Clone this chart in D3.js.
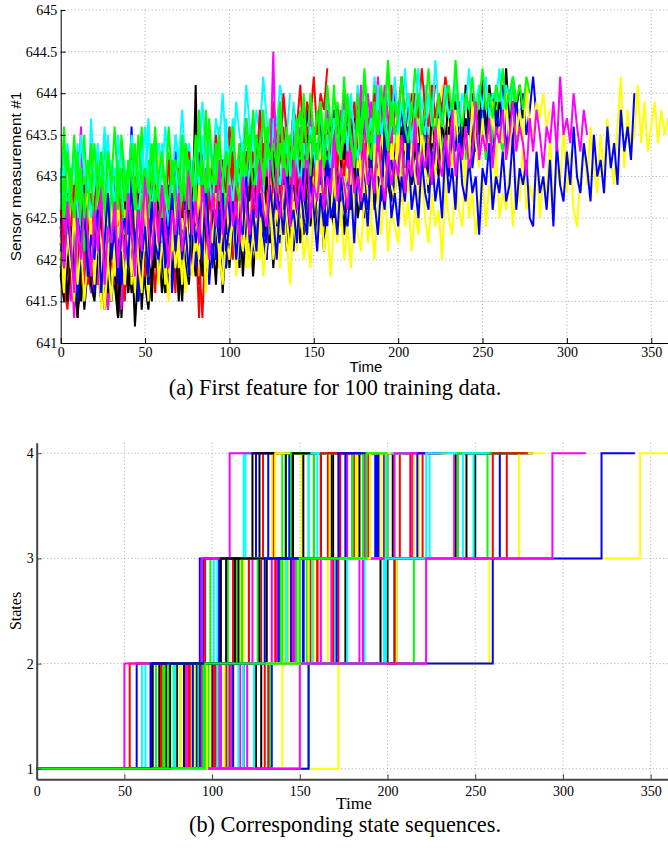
<!DOCTYPE html>
<html>
<head>
<meta charset="utf-8">
<script src="https://cdn.jsdelivr.net/npm/d3@7"></script>
<style>
  body { margin: 0; background: #fff; }
  svg { display: block; }
  .grid line { stroke: #a8a8a8; stroke-width: 1; stroke-dasharray: 1,2.5; }
</style>
</head>
<body>
<div id="chart"></div>
<script>
// matlab default line order: b g r c m y k
const colorCycle = ["#0000ff", "#00ff00", "#ff0000", "#00ffff", "#ff00ff", "#ffff00", "#000000"];
const SERIF = '"Liberation Serif", "Times New Roman", serif';
const SANS = '"Liberation Sans", Arial, sans-serif';

// ---- state sequences (panel b), one value per training unit 0..99
const jump12 = [88,155,84,97,116,92,118,65,99,104,110,79,75,90,96,103,130,85,72,112,
  94,93,68,70,109,86,77,80,57,91,108,60,97,88,87,76,82,89,62,85,
  101,94,100,92,53,118,104,107,100,91,98,102,90,120,90,128,66,72,110,78,
  87,82,84,134,73,97,124,94,172,70,100,105,101,79,111,99,74,112,95,87,
  115,50,140,125,89,133,71,103,105,75,66,155,75,132,124,150,97,76,65,96];
const jump23 = [141,215,128,138,184,136,176,95,150,160,170,123,118,131,152,148,205,143,112,168,
  141,147,99,112,170,144,116,121,93,140,172,101,147,144,131,117,126,141,103,137,
  158,146,152,139,96,187,157,166,157,145,154,160,142,186,141,200,104,109,169,127,
  134,130,127,204,114,150,198,146,258,108,152,157,156,121,168,155,113,171,148,136,
  177,94,205,196,138,204,121,157,162,115,105,260,117,204,199,222,150,115,130,150];
const jump34 = [180,257,166,176,238,176,239,132,187,207,224,158,151,168,193,195,268,181,146,218,
  182,190,155,135,214,186,134,152,144,180,220,118,187,183,169,146,158,181,119,177,
  203,184,194,180,129,240,200,215,203,186,200,198,182,240,182,250,125,140,213,160,
  173,167,162,264,142,189,249,187,344,127,195,199,198,155,214,196,142,217,186,173,
  222,110,275,245,176,240,162,199,204,136,123,322,145,260,243,294,190,146,172,188];
const lifeEnd = [192,276,179,189,256,188,259,150,201,222,240,170,163,180,207,209,283,195,158,234,
  195,202,168,147,230,199,156,165,163,194,234,137,200,195,181,158,170,194,128,188,
  216,196,207,192,158,256,214,231,215,198,213,213,195,257,193,275,137,147,231,172,
  185,180,174,283,153,202,270,199,362,137,208,213,213,166,229,210,154,231,199,185,
  240,128,290,267,188,278,178,213,217,154,135,341,155,280,258,313,202,156,185,200];

// ---- sensor measurement #1 (panel a), every 2 cycles, for a subset of units
const sensorStep = 2;
const sensorU1 = [642.9,642.4,643.3,642.6,642.2,643.0,642.7,643.5,642.5,642.8,
  642.3,643.1,642.6,643.4,642.9,642.1,642.7,643.2,642.5,643.0,
  642.6,643.3,642.4,642.9,643.6,642.7,642.2,643.0,642.8,643.4,
  642.5,642.9,643.2,642.3,643.0,642.7,643.5,642.6,643.1,642.4,
  643.0,642.6,643.3,642.8,642.2,643.1,642.9,643.6,642.5,643.2,
  642.7,643.4,642.6,643.0,642.4,643.3,642.9,643.1,642.5,643.5,
  642.8,643.2,642.6,643.7,642.9,643.0,642.5,643.4,643.1,642.7,
  643.3,642.8,643.5,642.6,643.1,643.4,642.9,643.8,642.7,643.2,
  643.0,643.6,642.8,643.3,642.7,643.5,643.1,642.9,643.7,643.2,
  642.9,643.4,643.0,643.8,642.8,643.3,643.6,643.0,643.5,642.9,
  643.4,643.1,643.7,642.9,643.5,643.2,643.9,643.0,643.4,643.6,
  643.1,643.8,643.3,643.5,643.0,643.7,643.2,644.0,643.4,643.6,
  643.2,643.9,643.5,643.3,644.1,643.6,643.2,643.8,643.4,644.0,
  643.5,643.3,643.9,643.6,644.2,643.4,643.8,643.7,644.0];
const sensorU2 = [642.0,642.5,641.7,642.3,641.9,642.6,642.1,641.6,642.4,642.0,
  642.7,641.8,642.3,642.1,641.5,642.5,642.2,642.8,641.9,642.4,
  642.0,642.6,641.7,642.3,642.9,642.1,641.8,642.5,642.2,642.7,
  641.9,642.4,642.0,642.8,642.3,641.7,642.6,642.2,642.5,642.0,
  642.7,642.3,642.9,641.8,642.5,642.1,643.0,642.4,642.6,642.2,
  642.8,642.5,642.1,643.1,642.6,642.3,642.9,642.7,642.4,643.2,
  642.6,642.9,642.5,643.3,642.8,642.4,643.0,642.7,643.4,642.9,
  642.6,643.2,642.8,643.5,643.0,642.7,643.3,643.1,642.9,643.6,
  643.2,642.9,643.5,643.1,643.7,643.3,643.0,643.6,643.4,643.8];
const sensorU6 = [641.9,642.4,641.6,642.2,641.8,642.5,641.5,642.1,642.7,641.9,
  642.3,641.7,642.6,642.0,641.4,642.2,641.8,642.5,641.3,642.0,
  641.6,642.3,641.2,641.9,642.4,641.7,642.1,641.5,642.6,641.8,
  642.2,641.6,642.4,641.9,642.7,642.0,641.5,642.3,641.8,642.5,
  642.1,641.7,642.6,642.2,641.9,642.8,642.0,642.4,641.6,642.3,
  642.7,642.1,642.5,641.9,642.8,642.2,642.6,641.8,642.4,642.9,
  642.3,642.0,642.7,642.5,642.1,643.0,642.4,642.8,642.2,642.6,
  643.1,642.5,642.3,642.9,642.6,643.2,642.4,642.8,642.1,642.7,
  643.0,642.5,643.3,642.7,642.4,642.9,643.1,642.6,643.4,642.8,
  642.5,643.0,642.7,643.3,642.9,643.5,642.6,643.1,642.8,643.4,
  643.0,642.7,643.6,643.1,642.9,643.3,643.7,643.0,643.4,642.8,
  643.5,643.2,643.0,643.8,643.3,643.6,643.1,643.9,643.4,643.2,
  643.7,643.5,644.0,643.3,643.8,643.6,643.4,644.1,643.7,643.9];
const sensorU7 = [642.0,642.4,642.6,641.9,641.6,642.3,642.1,642.8,642.2,641.7,
  641.9,642.5,642.9,642.3,642.0,641.5,642.2,642.7,642.4,641.8,
  642.6,642.1,642.0,642.8,643.2,642.4,641.9,642.3,642.5,642.0,
  642.7,643.0,642.2,642.4,641.8,642.6,642.9,642.5,642.1,642.8,
  642.3,643.3,642.7,642.2,642.5,642.9,642.4,643.1,642.6,642.3,
  642.9,643.4,642.8,642.5,643.0,642.7,643.2,642.6,643.5,642.9,
  643.1,642.8,643.4,643.0,642.7,643.6,643.2,642.9,643.3,643.7,
  643.1,643.5,643.3,643.8,643.4];
const sensorU9 = [642.3,641.8,642.5,641.6,642.2,641.3,642.0,642.6,641.9,642.4,
  641.7,642.1,642.8,642.0,641.6,642.3,641.9,642.6,642.2,641.5,
  642.4,642.9,642.0,641.7,642.5,642.1,642.7,641.8,642.3,642.0,
  642.6,641.9,642.4,642.2,641.6,642.7,642.1,642.5,641.8,642.9,
  642.3,642.0,641.3,642.4,642.8,642.1,642.6,641.9,642.5,642.2,
  642.7,642.0,642.9,642.4,642.1,642.6,643.0,642.3,642.7,642.5,
  642.2,642.9,642.6,643.1,642.4,642.8,642.3,643.0,642.6,642.9,
  642.5,643.2,642.7,642.4,643.0,642.8,643.3,642.6,643.1,642.9,
  643.4,642.7,643.0,643.2,642.8,643.5,643.1,642.9,643.6,643.0,
  643.3,643.1,643.7,642.9,643.4,643.2,643.8,643.0,643.5,643.3,
  643.9,643.2,643.6,643.4,644.0,643.3,643.7,643.5,643.9,643.4,
  643.8,644.1];
const sensorU10 = [642.9,643.3,642.6,643.0,642.7,643.4,642.8,643.1,642.5,643.7,
  642.9,643.2,642.6,643.0,643.5,642.7,643.1,642.8,643.4,642.5,
  643.0,642.8,643.3,642.6,643.1,642.9,643.6,642.7,643.2,642.9,
  643.4,642.6,643.0,642.8,643.5,643.1,642.7,643.3,642.9,643.2,
  642.8,643.6,643.0,642.7,643.4,643.1,642.9,643.5,642.8,643.2,
  643.0,643.7,642.9,643.3,643.1,642.8,643.6,643.2,643.0,643.4,
  643.8,643.1,642.9,643.5,643.2,643.7,643.0,643.4,643.1,643.9,
  643.3,643.0,643.6,643.2,643.8,643.4,643.1,643.7,643.3,644.0,
  643.5,643.2,643.8,643.4,643.1,643.9,643.5,643.3,644.1,643.6,
  643.2,643.8,643.5,644.2,643.4,643.7,643.3,644.0,643.6,643.4,
  643.9,643.5,644.3,643.7,643.4,644.0,643.6,643.8,644.1,643.5,
  643.9];
const sensorU13 = [641.8,641.5,642.1,642.4,641.9,641.4,641.7,642.3,642.0,641.6,
  642.2,642.6,641.8,641.5,642.0,642.3,641.7,641.3,641.9,642.4,
  642.1,641.6,641.8,642.5,642.2,641.7,641.4,642.0,642.3,641.8,
  642.6,642.0,641.7,642.2,642.7,642.1,641.8,642.4,641.9,642.2,
  642.8,642.3,641.9,642.1,642.6,642.0,642.4,642.9,642.2,641.9,
  642.5,642.3,642.8,642.1,642.6,643.0,642.4,642.2,642.7,642.5,
  643.1,642.4,642.2,642.8,642.6,643.0,642.5,643.2,642.7,642.4,
  642.9,643.3,642.6,642.8,643.1,642.7,643.4,643.0,642.8,643.2,
  643.5,642.9,643.3,643.1,643.6,643.2,643.0,643.7,643.4,643.6];
const sensorU14 = [642.5,642.1,642.8,642.3,641.8,642.6,642.2,642.9,642.4,642.0,
  642.7,642.3,643.0,641.9,642.5,642.2,642.8,642.4,643.1,642.1,
  642.6,643.6,642.3,642.9,642.0,642.7,642.4,643.2,642.2,642.8,
  642.5,642.1,642.9,642.6,643.3,642.3,642.7,642.4,643.0,642.2,
  642.8,642.5,643.1,642.3,642.9,642.6,643.4,642.4,642.8,642.5,
  643.2,642.7,642.3,643.0,642.6,643.3,642.8,642.5,643.1,642.7,
  643.4,642.6,643.0,642.8,643.5,642.7,643.1,642.9,643.3,642.6,
  643.2,642.9,643.6,643.0,642.8,643.4,643.1,643.7,642.9,643.3,
  643.0,643.8,643.2,642.9,643.5,643.1,643.7,643.3,643.0,643.9,
  643.4,643.2,643.8,643.5,643.1,644.0,643.4,643.6,643.3,644.1,
  643.5,643.8,643.4,644.0];
const sensorU19 = [642.0,641.6,642.4,641.8,642.2,641.5,642.1,642.6,641.7,642.3,
  641.9,642.5,641.4,642.0,642.7,641.8,642.2,641.6,642.4,642.0,
  642.6,641.7,642.3,641.9,642.8,642.1,641.5,642.4,642.0,643.4,
  641.8,642.3,642.1,642.7,641.9,642.5,642.2,641.6,642.6,642.0,
  642.4,641.8,642.9,642.2,642.5,642.0,642.7,641.9,642.3,642.6,
  642.1,642.8,642.4,642.0,642.6,642.3,643.0,642.2,642.7,642.5,
  642.1,642.9,642.4,642.7,642.2,643.1,642.6,642.3,642.8,642.5,
  643.0,642.4,642.7,643.2,642.6,642.9,642.3,643.1,642.7,642.5,
  643.3,642.8,642.6,643.0,642.7,643.4,642.9,642.6,643.2,642.8,
  643.5,643.0,642.7,643.3,642.9,643.6,643.1,642.8,643.4,643.0,
  643.7,643.2,642.9,643.5,643.1,643.8,643.3,643.0,643.6,643.2,
  643.9,643.4,643.1,643.7,643.3,644.0,643.5,643.8];
const sensorU23 = [642.2,641.7,641.4,642.0,642.5,642.3,641.8,641.6,642.4,642.8,
  642.1,641.9,641.5,642.3,642.6,642.0,641.7,642.2,643.0,642.4,
  641.9,642.1,642.7,642.3,641.8,642.5,642.9,642.2,641.6,642.4,
  642.7,642.1,641.9,642.6,642.3,643.1,642.5,642.0,642.2,642.8,
  642.4,641.3,642.6,642.9,642.3,642.5,643.0,642.6,642.2,642.8,
  643.2,642.7,642.4,643.0,642.6,643.3,642.8,642.5,643.1,642.9,
  643.4,642.7,643.0,643.5,642.9,643.2,643.6,643.0,643.3,643.7,
  643.1,643.5,643.8,643.4];
const sensorU25 = [642.3,641.8,642.6,642.0,641.3,642.4,643.6,642.1,641.9,642.5,
  642.2,641.7,642.8,642.0,641.4,642.3,642.7,641.9,642.4,642.1,
  642.6,641.8,642.9,642.2,642.0,642.5,641.7,642.7,642.3,642.0,
  642.8,642.2,642.5,641.9,642.6,643.0,642.3,642.1,642.7,642.4,
  642.9,642.2,642.6,643.1,642.4,642.0,642.8,642.5,643.2,642.3,
  642.7,642.5,643.0,642.4,642.9,642.6,643.3,642.5,642.8,643.1,
  642.7,643.4,642.6,643.0,642.8,643.5,642.9,643.2,642.7,643.6,
  643.0,642.8,643.3,643.1,643.7,642.9,643.4,643.2,643.0,643.8,
  643.3,643.1,643.6,643.4,644.0,643.2,643.7,643.5,643.3,644.1,
  643.6,643.4,643.9,643.5,644.2,643.6,643.8,643.5,644.0,643.7];
const sensorU31 = [643.1,642.7,643.4,642.9,643.2,642.6,643.5,643.0,642.8,643.3,
  642.7,643.1,642.9,643.6,642.8,643.2,643.0,642.7,643.4,643.1,
  642.9,643.5,643.2,642.8,643.3,643.0,643.7,642.9,643.2,643.4,
  643.0,643.6,643.1,642.9,643.5,643.2,643.8,643.1,643.4,643.0,
  643.6,643.3,643.9,643.2,643.5,643.1,643.7,643.4,644.0,643.3,
  643.6,643.2,643.9,643.5,643.3,644.1,643.6,643.4,643.8,643.5,
  644.2,643.7,643.4,643.9,643.6,644.1,643.8,643.5,644.0];
const sensorU32 = [642.1,642.5,641.8,641.5,642.2,642.7,642.4,641.9,642.3,641.6,
  642.0,642.6,642.9,642.2,641.7,642.1,642.5,642.0,641.4,642.3,
  642.8,642.4,642.1,641.8,642.6,643.1,642.3,641.9,642.2,642.7,
  642.4,641.7,642.0,642.5,642.9,642.2,642.0,642.6,642.3,641.9,
  642.4,642.8,642.5,642.1,642.7,643.2,642.4,642.2,642.6,642.9,
  642.3,642.7,643.0,642.5,642.2,642.8,643.3,642.6,642.4,642.9,
  642.6,643.1,642.5,642.8,643.4,642.9,642.6,643.0,643.2,642.7,
  643.1,643.6,642.9,643.2,643.0,643.5,643.1,642.8,643.3,643.7,
  643.2,643.0,643.5,643.8,643.3,643.1,643.6,643.4,643.9,643.2,
  643.5,644.0,643.6,643.3,643.8,643.5,644.1,643.7,643.4,643.9,
  643.6];
const sensorU44 = [642.4,642.0,642.7,642.2,641.8,642.5,642.1,642.9,642.3,641.9,
  642.6,642.2,642.8,642.0,642.5,642.3,643.0,642.1,642.6,642.4,
  642.9,642.2,642.7,642.5,643.1,642.3,642.8,642.6,642.2,643.0,
  642.5,642.9,642.4,643.2,642.6,642.3,643.0,642.7,643.3,642.5,
  642.9,642.7,643.4,642.6,643.1,642.8,643.5,642.9,643.2,642.7,
  643.6,643.0,642.8,643.4,643.1,643.7,642.9,643.3,643.0,643.8,
  643.2,643.5,643.1,643.9,643.4,643.2,644.0,643.5,643.3,643.8,
  643.6,644.1,643.4,643.9,643.7,644.2,643.5,644.0,643.8,644.3];
const sensorU47 = [642.4,641.9,642.1,642.7,642.3,641.6,642.0,642.5,642.8,642.2,
  641.8,642.4,641.5,642.0,642.6,642.3,641.9,642.7,642.1,641.7,
  642.3,642.9,642.5,642.0,641.6,642.2,642.6,642.4,641.9,642.8,
  642.1,641.8,642.5,643.1,642.3,642.0,642.4,641.7,642.2,642.7,
  642.4,642.9,642.1,641.9,642.6,642.3,642.8,642.5,642.0,642.4,
  643.0,642.6,642.2,642.7,642.4,641.9,642.5,642.9,642.3,642.6,
  643.2,642.7,642.4,642.8,642.2,642.6,643.1,642.8,642.5,642.9,
  642.4,642.7,643.3,642.9,642.6,643.0,642.7,643.4,642.8,642.5,
  643.1,642.9,643.5,642.8,643.2,643.0,642.7,643.3,643.6,643.0,
  642.8,643.4,643.1,643.7,643.2,642.9,643.5,643.3,643.0,643.6,
  643.8,643.2,643.4,643.1,643.7,643.5,643.9,643.3,643.6,644.0,
  643.4,643.7,643.5,644.1,643.8,643.6];
const sensorU50 = [642.8,643.6,642.5,643.1,642.7,643.3,642.4,643.0,642.8,643.4,
  642.6,643.2,642.9,642.5,643.3,642.8,643.0,642.6,643.5,642.9,
  643.1,642.7,643.4,642.8,643.0,642.5,643.2,642.9,643.6,642.7,
  643.1,642.8,643.3,642.6,643.0,642.9,643.5,642.7,643.2,642.8,
  643.4,643.0,642.7,643.8,642.9,643.2,643.0,643.5,642.8,643.3,
  643.1,643.6,642.9,643.4,643.0,643.7,643.2,642.9,643.5,643.1,
  643.8,643.2,643.0,643.6,643.3,643.9,643.1,643.5,643.2,643.8,
  643.4,643.1,643.7,643.3,644.0,643.5,643.2,643.8,643.4,644.1,
  643.6,643.3,643.9,643.5,644.2,643.4,643.8,643.6,644.0,643.5,
  644.3,643.7,643.5,644.1,643.6,644.0,643.8,644.4,643.7,643.9,
  643.6,644.2,643.8,644.0,643.7,644.3,643.9];
const sensorU55 = [641.8,642.3,641.5,642.0,642.6,641.7,642.2,641.4,641.9,642.4,
  641.6,642.1,642.7,641.8,642.3,641.5,642.0,641.3,641.9,642.5,
  641.6,642.2,641.8,642.6,641.4,642.1,641.7,642.4,641.9,642.3,
  641.6,642.0,642.5,641.8,642.2,641.5,642.7,642.0,641.7,642.4,
  644.1,642.1,641.8,642.6,642.0,642.3,641.7,642.5,642.1,642.8,
  641.9,642.4,642.2,642.7,641.8,642.5,642.0,642.9,642.3,642.1,
  642.6,642.2,642.8,641.9,642.5,642.3,643.0,642.1,642.7,642.4,
  642.9,642.2,642.6,643.1,642.4,642.8,642.3,642.7,642.5,643.2,
  642.6,642.4,643.0,642.7,642.3,642.9,642.6,643.3,642.5,642.8,
  643.1,642.7,643.4,642.6,643.0,642.8,643.5,642.9,642.7,643.2,
  643.0,643.6,642.8,643.3,643.1,643.7,642.9,643.4,643.2,643.0,
  643.8,643.3,643.1,643.6,643.4,644.0,643.2,643.7,643.5,643.3,
  644.1,643.6,643.4,643.9,643.5,644.2,643.6,643.8,644.0,643.5,
  643.9,643.7,644.3,643.6,643.9,643.8,644.1,643.7];
const sensorU58 = [642.6,642.2,641.8,642.4,642.9,642.5,642.0,642.3,641.7,642.1,
  642.7,643.0,642.4,641.9,642.2,642.6,642.3,641.6,642.5,642.8,
  642.1,642.4,643.0,642.6,642.0,641.8,642.5,642.2,642.9,642.4,
  642.0,642.7,643.2,642.5,642.1,642.4,642.8,642.2,641.9,642.6,
  642.3,642.9,642.5,642.1,642.7,643.1,642.4,642.6,642.2,642.9,
  642.5,643.3,642.7,642.3,642.8,642.5,643.0,642.6,642.2,642.9,
  643.2,642.7,642.5,643.0,643.4,642.8,642.6,643.1,642.7,643.3,
  642.9,642.6,643.2,643.6,643.0,642.8,643.3,643.0,643.5,642.9,
  643.2,643.7,643.1,643.4,643.0,643.6,643.3,643.9,643.2,643.5,
  643.1,643.7,643.4,644.0,643.3,643.6,643.8,643.4,644.1,643.5,
  643.7,644.2,643.6,643.9,643.5,644.0,643.7,644.3,643.8,643.6,
  644.1,643.7,644.0,643.8,644.2,643.9];
const sensorU62 = [642.1,641.6,641.9,642.4,641.8,641.3,642.0,642.5,642.2,641.7,
  641.5,642.1,642.6,642.0,641.6,642.3,641.9,641.4,642.2,642.7,
  642.1,641.8,642.4,641.5,642.0,642.5,642.2,641.7,642.3,642.8,
  642.0,641.6,642.2,642.6,642.3,641.9,642.5,642.1,642.8,642.2,
  641.8,642.4,642.9,642.3,642.0,642.6,642.2,642.8,643.2,642.4,
  642.1,642.7,642.3,642.9,642.5,642.2,642.8,643.1,642.5,642.7,
  642.4,643.0,642.6,643.3,642.8,642.5,643.1,642.7,643.4,642.9,
  642.6,643.2,643.0,643.5,642.9,643.3,643.1,643.7,643.2,643.0,
  643.6,643.3,643.8,643.4,643.2,643.9,643.5,643.7];
const sensorU63 = [642.2,641.7,642.4,641.9,642.6,641.5,642.1,642.8,641.8,642.3,
  641.6,642.5,642.0,641.4,642.2,642.7,641.9,642.4,641.7,642.1,
  642.6,641.8,642.3,641.5,642.0,642.5,641.7,642.9,642.2,641.8,
  642.4,642.0,642.6,641.6,642.3,642.1,641.8,642.7,642.2,642.4,
  641.9,642.5,642.1,642.8,641.7,642.3,642.0,642.6,642.2,641.9,
  642.7,642.3,642.5,642.0,642.9,642.2,642.6,642.1,642.4,642.8,
  642.3,642.0,642.7,642.5,643.0,642.2,642.6,642.4,642.9,642.1,
  642.7,642.5,643.1,642.3,642.8,642.6,642.2,643.0,642.7,642.4,
  643.2,642.6,642.9,642.5,643.0,642.8,643.3,642.5,642.9,642.7,
  643.1,642.6,643.4,642.8,643.0,642.7,643.5,642.9,643.2,642.8,
  643.3,643.0,642.7,643.6,643.1,642.9,643.4,643.2,643.7,643.0,
  643.3,643.1,643.8,643.2,643.5,643.0,643.6,643.3,643.9,643.2,
  643.4,643.7,643.1,643.5,643.3,644.0,643.4,643.6,643.2,643.8,
  643.5,644.1,643.3,643.7,643.4,643.9,643.6,644.0,643.5,643.8,
  644.2,643.7];
const sensorU66 = [642.7,643.1,642.4,642.9,643.3,642.6,642.2,642.8,643.0,642.5,
  642.9,643.4,642.7,642.3,642.8,643.1,642.6,643.5,642.9,642.4,
  642.7,643.2,642.8,642.5,643.0,643.6,642.9,642.6,643.1,642.7,
  643.3,642.8,642.4,642.9,643.2,642.6,643.0,643.4,642.8,642.5,
  643.1,642.9,643.5,642.7,643.0,642.6,643.3,643.1,642.8,643.7,
  643.0,642.7,643.2,642.9,643.4,642.8,643.1,643.6,642.9,643.2,
  642.8,643.4,643.0,643.7,643.1,642.9,643.3,643.5,643.0,643.8,
  643.2,642.9,643.4,643.1,643.6,643.3,643.0,643.9,643.2,643.5,
  643.1,643.7,643.4,643.2,643.8,643.3,644.0,643.5,643.2,643.6,
  643.9,643.4,643.7,643.3,644.1,643.5,643.8,643.4,643.6,644.2,
  643.5,643.9,643.6,644.0,643.4,643.8,644.3,643.7,643.5,644.0,
  643.6,644.4,643.8,643.6,644.1,643.7,643.9,644.2,643.6,644.0,
  643.8,644.3,643.7,643.9,644.1,643.8,644.2,643.7,644.0,643.9,
  644.3,643.8,644.1,643.9,644.2,643.9];
const sensorU68 = [642.1,641.6,642.4,641.9,642.6,641.7,642.2,641.5,642.0,642.5,
  641.8,642.3,641.6,642.7,642.0,641.5,642.2,641.9,642.4,641.7,
  642.3,641.8,642.6,642.0,641.6,642.4,641.9,642.1,642.8,641.7,
  642.2,642.0,641.5,642.5,641.9,642.3,641.7,642.6,642.1,641.8,
  642.4,642.0,642.7,641.6,642.2,641.9,642.5,642.1,641.7,642.3,
  642.0,642.6,641.8,642.4,642.1,642.8,641.9,642.3,642.0,642.5,
  641.8,642.2,642.7,642.0,642.4,641.9,642.6,642.2,641.7,642.5,
  642.1,642.8,642.0,642.3,641.9,642.6,642.2,642.9,642.1,642.4,
  641.8,642.5,642.2,642.7,642.0,642.4,641.9,642.6,642.3,642.1,
  642.8,642.2,642.5,642.0,642.7,642.3,643.0,642.1,642.6,642.4,
  642.2,642.9,642.4,642.7,642.1,642.6,642.3,643.1,642.5,642.2,
  642.8,642.4,642.6,642.0,642.9,642.5,642.3,643.0,642.6,642.4,
  643.2,642.5,642.8,642.3,642.7,643.0,642.4,642.9,642.6,643.3,
  642.5,642.8,642.6,643.1,642.4,643.0,642.7,643.4,642.6,642.9,
  642.7,643.2,642.5,643.0,642.8,643.5,642.7,643.1,642.9,643.6,
  642.8,643.3,642.6,642.4,643.0,643.4,642.9,643.6,643.1,642.8,
  643.5,643.0,643.7,643.2,642.9,643.6,644.2,643.1,643.8,643.3,
  643.5,644.1,643.4,643.9,643.3,643.6,643.9,643.4,643.8,643.5,
  643.7,643.4];
const sensorU82 = [642.3,641.8,642.6,642.0,641.5,642.4,642.1,642.8,641.9,642.3,
  641.7,642.5,642.2,641.4,642.0,642.7,641.8,642.4,642.1,642.6,
  641.9,642.3,641.6,642.5,642.0,642.8,641.8,642.2,642.6,642.0,
  642.4,641.7,642.3,642.1,642.7,641.9,642.5,642.2,641.8,642.6,
  642.1,642.9,642.3,641.9,642.5,642.2,642.7,642.0,642.4,642.8,
  642.2,642.5,642.0,642.9,642.4,642.1,642.7,642.3,642.6,642.0,
  642.8,642.4,643.1,642.2,642.6,642.3,642.9,642.5,642.1,642.7,
  642.4,643.0,642.6,642.2,642.8,642.5,643.2,642.3,642.7,642.9,
  642.5,643.1,642.6,642.4,643.0,642.7,643.3,642.5,642.9,642.6,
  643.2,642.8,642.5,643.4,642.7,643.0,642.6,643.3,642.9,642.7,
  643.5,642.9,643.1,642.8,643.4,643.0,642.7,643.6,643.1,642.9,
  643.3,643.0,643.7,643.2,642.9,643.5,643.1,643.8,643.3,643.0,
  643.6,643.2,643.9,643.4,643.1,643.7,643.3,643.5,643.9,643.2,
  643.6,643.4,644.0,643.3,643.7,643.5,643.8,643.4,644.1,643.6,
  643.5,643.9,643.7,644.0,643.6,643.8];
const sensorU85 = [642.6,643.0,642.3,642.8,642.5,643.2,642.7,642.1,642.6,643.0,
  642.4,642.9,643.3,642.6,642.2,642.8,642.5,643.1,642.7,642.3,
  642.9,643.4,642.8,642.4,642.7,643.1,642.5,642.9,643.5,642.8,
  642.4,643.0,642.6,643.2,642.7,642.3,642.9,643.3,642.6,643.0,
  642.7,643.8,642.8,642.5,643.1,642.9,643.4,642.7,643.0,642.6,
  643.2,643.6,642.9,642.7,643.3,643.0,643.5,642.8,643.1,643.4,
  642.9,643.2,643.7,643.0,642.8,643.4,643.1,643.6,643.2,642.9,
  643.5,643.8,643.1,643.3,643.0,643.6,643.2,643.9,643.4,643.1,
  643.5,643.3,643.8,643.2,643.6,644.0,643.4,643.1,643.7,643.3,
  643.9,643.5,643.2,643.8,643.4,644.1,643.6,643.3,643.9,643.5,
  643.7,644.2,643.6,643.4,643.9,643.6,644.0,643.5,643.8,644.3,
  643.7,643.5,644.0,643.6,643.9,644.1,643.7,644.4,643.8,643.6,
  644.0,643.8,644.2,643.7,643.9,644.3,643.8,644.0,643.7,644.1,
  643.9,644.3,643.8,644.0,644.2,643.9,644.1,643.8,644.2,644.0];
const sensorU91 = [642.4,641.9,642.6,642.1,641.7,642.5,642.2,642.9,641.8,642.3,
  642.0,642.6,641.6,642.2,642.8,642.0,642.4,641.7,642.3,642.5,
  641.9,643.0,642.1,642.6,642.0,642.4,641.8,642.7,642.2,642.0,
  642.5,641.9,642.3,642.8,642.1,642.6,642.0,642.4,641.8,642.7,
  642.2,642.5,642.0,642.9,642.3,641.9,642.6,642.2,642.8,642.1,
  642.4,642.7,642.0,642.5,642.3,643.0,642.2,642.6,642.1,642.8,
  642.4,642.2,642.9,642.5,642.0,642.7,642.3,643.1,642.4,642.6,
  642.2,642.9,642.5,642.3,643.0,642.6,642.1,642.8,642.4,643.2,
  642.5,642.7,642.3,643.0,642.6,642.4,642.9,642.2,643.1,642.6,
  642.8,642.4,643.2,642.7,642.3,642.9,642.6,643.3,642.5,642.8,
  642.4,643.0,642.7,643.4,642.6,642.9,642.5,643.2,642.8,642.6,
  643.3,642.7,643.0,642.5,643.4,642.8,643.1,642.6,643.5,642.9,
  642.7,643.2,642.8,643.0,642.3,643.1,642.9,643.4,642.6,643.0,
  642.8,643.3,642.7,642.9,643.5,642.6,643.1,642.9,643.2,642.5,
  642.4,643.3,642.8,643.0,642.6,643.2,642.4,643.4,642.9,642.7,
  643.3,642.9,643.6,643.0,642.8,643.4,643.1,642.7,643.5,643.0,
  643.2,642.8,643.6,643.1,643.4,642.9,643.8,643.3,643.6,643.2,
  644.0];
const sensorU95 = [642.4,641.9,642.7,642.2,641.6,642.5,642.0,642.8,642.3,641.8,
  642.6,642.1,642.9,641.7,642.4,642.2,642.7,641.9,642.5,642.0,
  642.8,642.3,641.8,642.6,642.1,643.0,642.4,642.0,642.7,642.2,
  642.9,642.4,641.9,642.6,642.3,642.8,642.1,642.5,643.1,642.3,
  642.7,642.2,642.9,642.5,642.0,642.8,642.4,643.2,642.3,642.6,
  642.9,642.4,642.7,642.2,643.0,642.6,642.3,642.9,642.5,643.3,
  642.6,642.4,643.0,644.5,642.7,642.5,643.1,642.8,642.4,643.2,
  642.6,643.0,642.7,643.4,642.5,642.9,642.7,643.2,642.6,643.0,
  642.8,643.5,642.7,643.1,642.9,642.6,643.3,642.8,643.0,642.7,
  643.4,642.9,643.1,642.8,643.6,643.0,642.7,643.3,642.9,643.2,
  643.0,643.5,642.8,643.2,643.0,643.7,642.9,643.3,643.1,643.4,
  642.9,643.6,643.2,643.0,643.5,643.1,643.8,643.0,643.4,643.2,
  643.6,643.1,643.3,643.9,643.2,643.5,643.3,643.7,643.1,643.6,
  643.4,643.8,643.2,643.5,643.9,643.3,643.6,643.4,643.0,643.7,
  643.3,643.8,643.5,643.1,643.6,643.4,643.9,643.3,644.2,643.5,
  643.7,643.4,644.0,643.6,643.3,643.8,643.5];
const sensorU99 = [643.0,642.6,643.3,642.8,643.5,642.7,643.1,642.5,643.2,642.9,
  643.4,642.7,643.0,642.6,643.3,642.9,643.6,642.8,643.1,642.7,
  643.2,643.0,642.6,643.5,642.9,643.1,642.8,643.4,642.7,643.0,
  643.3,642.8,643.6,642.9,643.2,643.0,642.7,643.4,643.1,642.9,
  643.5,643.0,643.2,642.8,643.7,643.1,642.9,643.4,643.0,643.3,
  643.1,643.6,642.9,643.2,643.0,643.5,643.2,643.8,643.1,643.3,
  643.0,643.6,643.2,643.4,643.1,643.9,643.3,643.0,643.5,643.2,
  643.7,643.3,644.0,643.2,643.5,643.3,643.8,643.4,643.1,643.7,
  643.4,644.1,643.3,643.6,643.4,643.9,643.5,643.2,643.8,643.5,
  644.2,643.6,643.4,643.9,643.5,644.0,643.7,644.3,643.6,643.9,
  643.7];

const sensorSeries = [
  { unit: 1, values: sensorU1 }, { unit: 2, values: sensorU2 }, { unit: 6, values: sensorU6 },
  { unit: 7, values: sensorU7 }, { unit: 9, values: sensorU9 }, { unit: 10, values: sensorU10 },
  { unit: 13, values: sensorU13 }, { unit: 14, values: sensorU14 }, { unit: 19, values: sensorU19 },
  { unit: 23, values: sensorU23 }, { unit: 25, values: sensorU25 }, { unit: 31, values: sensorU31 },
  { unit: 32, values: sensorU32 }, { unit: 44, values: sensorU44 }, { unit: 47, values: sensorU47 },
  { unit: 50, values: sensorU50 }, { unit: 55, values: sensorU55 }, { unit: 58, values: sensorU58 },
  { unit: 62, values: sensorU62 }, { unit: 63, values: sensorU63 }, { unit: 66, values: sensorU66 },
  { unit: 68, values: sensorU68 }, { unit: 82, values: sensorU82 }, { unit: 85, values: sensorU85 },
  { unit: 91, values: sensorU91 }, { unit: 95, values: sensorU95 }, { unit: 99, values: sensorU99 }
];

const timeTicks = [0, 50, 100, 150, 200, 250, 300, 350];
const sensorTicks = [641, 641.5, 642, 642.5, 643, 643.5, 644, 644.5, 645];
const stateTicks = [1, 2, 3, 4];

const W = 668, H = 855;
const svg = d3.select("#chart").append("svg").attr("width", W).attr("height", H);

function styleAxis(ax, stroke, width) {
  ax.attr("font-family", null).attr("font-size", null);
  ax.selectAll("text").style("font-family", SERIF).style("font-size", "14px").attr("fill", "#000");
  ax.select(".domain").attr("stroke", stroke).attr("stroke-width", width);
  ax.selectAll(".tick line").attr("stroke", stroke);
}

// ================= panel (a)
const A = { LEFT: 60.7, RIGHT: 671.5, TOP: 10, BOTTOM: 343 };
const xA = d3.scaleLinear().domain([0, 362]).range([A.LEFT, A.RIGHT]);
const yA = d3.scaleLinear().domain([641, 645]).range([A.BOTTOM, A.TOP]);

const gridA = svg.append("g").attr("class", "grid");
gridA.selectAll(".v").data(timeTicks.slice(1)).enter().append("line")
  .attr("x1", d => xA(d)).attr("x2", d => xA(d)).attr("y1", A.TOP).attr("y2", A.BOTTOM);
gridA.selectAll(".h").data(sensorTicks.slice(1)).enter().append("line")
  .attr("x1", A.LEFT).attr("x2", W).attr("y1", d => yA(d)).attr("y2", d => yA(d));

const lineA = d3.line().x((d, i) => xA(i * sensorStep)).y(d => yA(d));
svg.append("g").selectAll("path").data(sensorSeries).enter().append("path")
  .attr("d", d => lineA(d.values))
  .attr("fill", "none")
  .attr("stroke", d => colorCycle[d.unit % 7])
  .attr("stroke-width", 2)
  .attr("stroke-linejoin", "miter")
  .attr("stroke-miterlimit", 2);

const xAxisA = svg.append("g").attr("transform", `translate(0, ${A.BOTTOM})`)
  .call(d3.axisBottom(xA).tickValues(timeTicks).tickSize(-5).tickPadding(4).tickSizeOuter(0));
const yAxisA = svg.append("g").attr("transform", `translate(${A.LEFT}, 0)`)
  .call(d3.axisLeft(yA).tickValues(sensorTicks).tickFormat(d => d).tickSize(-5).tickPadding(3.5).tickSizeOuter(0));
styleAxis(xAxisA, "#000", 1);
styleAxis(yAxisA, "#000", 1);

svg.append("text").style("font-family", SANS).attr("x", 366).attr("y", 372)
  .attr("text-anchor", "middle").style("font-size", "15px").text("Time");
svg.append("text").style("font-family", SANS)
  .attr("transform", `translate(20.5, ${(A.TOP + A.BOTTOM) / 2}) rotate(-90)`)
  .attr("text-anchor", "middle").style("font-size", "15.5px").text("Sensor measurement #1");
svg.append("text").style("font-family", SERIF).attr("x", 335).attr("y", 395)
  .attr("text-anchor", "middle").style("font-size", "22.3px").text("(a) First feature for 100 training data.");

// ================= panel (b)
const B = { LEFT: 36.7, RIGHT: 671.7, TOP: 442.7, BOTTOM: 779.3 };
const xB = d3.scaleLinear().domain([0, 362]).range([B.LEFT, B.RIGHT]);
const yB = d3.scaleLinear().domain([0.9, 4.1]).range([B.BOTTOM, B.TOP]);

const gridB = svg.append("g").attr("class", "grid");
gridB.selectAll(".v").data(timeTicks.slice(1)).enter().append("line")
  .attr("x1", d => xB(d)).attr("x2", d => xB(d)).attr("y1", B.TOP).attr("y2", B.BOTTOM);
gridB.selectAll(".h").data(stateTicks).enter().append("line")
  .attr("x1", B.LEFT).attr("x2", W).attr("y1", d => yB(d)).attr("y2", d => yB(d));

const stateRows = d3.range(lifeEnd.length).map(i => ({
  unit: i,
  pts: [[0, 1], [jump12[i], 2], [jump23[i], 3], [jump34[i], 4], [lifeEnd[i], 4]]
}));
const lineB = d3.line().x(d => xB(d[0])).y(d => yB(d[1])).curve(d3.curveStepAfter);
svg.append("g").selectAll("path").data(stateRows).enter().append("path")
  .attr("d", d => lineB(d.pts))
  .attr("fill", "none")
  .attr("stroke", d => colorCycle[d.unit % 7])
  .attr("stroke-width", 2);

const xAxisB = svg.append("g").attr("transform", `translate(0, ${B.BOTTOM})`)
  .call(d3.axisBottom(xB).tickValues(timeTicks).tickSize(-5).tickPadding(6.5).tickSizeOuter(0));
const yAxisB = svg.append("g").attr("transform", `translate(${B.LEFT}, 0)`)
  .call(d3.axisLeft(yB).tickValues(stateTicks).tickFormat(d => d).tickSize(-5).tickPadding(3).tickSizeOuter(0));
styleAxis(xAxisB, "#444", 2);
styleAxis(yAxisB, "#444", 2);

svg.append("text").style("font-family", SERIF).attr("x", 354).attr("y", 808.5)
  .attr("text-anchor", "middle").style("font-size", "17.4px").text("Time");
svg.append("text").style("font-family", SERIF)
  .attr("transform", `translate(20.7, ${(B.TOP + B.BOTTOM) / 2}) rotate(-90)`)
  .attr("text-anchor", "middle").style("font-size", "16px").text("States");
svg.append("text").style("font-family", SERIF).attr("x", 345).attr("y", 832)
  .attr("text-anchor", "middle").style("font-size", "22.3px").text("(b) Corresponding state sequences.");
</script>
</body>
</html>
